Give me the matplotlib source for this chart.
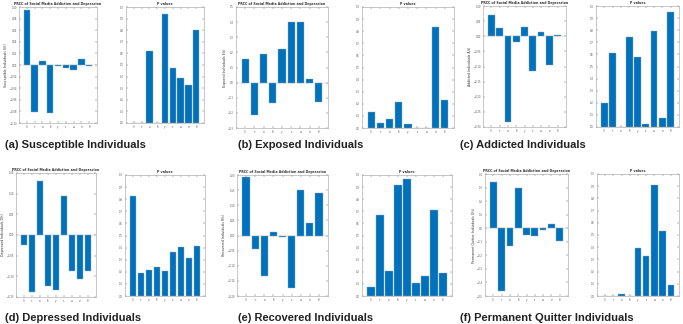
import numpy as np
import matplotlib.pyplot as plt

params = ['Λ', 'τ', 'α', 'δ', 'γ', 'ε', 'ω', 'σ', 'θ']

prcc_s = [0.094, -0.081, 0.007, -0.083, -0.001, -0.006, -0.009, 0.011, -0.002]
pval_s = [0.0, 0.0, 0.623, 0.0, 0.937, 0.471, 0.386, 0.329, 0.806]
prcc_e = [0.156, -0.211, 0.187, -0.132, 0.222, 0.404, 0.404, 0.022, -0.125]
pval_e = [0.135, 0.044, 0.077, 0.212, 0.033, 0.0, 0.0, 0.837, 0.234]
prcc_a = [0.069, 0.028, -0.283, -0.019, 0.031, -0.116, 0.015, -0.094, 0.005]
pval_a = [0.198, 0.609, 0.0, 0.741, 0.576, 0.028, 0.796, 0.072, 0.948]
prcc_d = [-0.025, -0.137, 0.131, -0.123, -0.132, 0.095, -0.088, -0.107, -0.086]
pval_d = [0.829, 0.193, 0.218, 0.243, 0.210, 0.367, 0.409, 0.312, 0.417]
prcc_r = [0.193, -0.046, -0.135, 0.011, -0.004, -0.173, 0.149, 0.040, 0.141]
pval_r = [0.071, 0.668, 0.204, 0.921, 0.965, 0.109, 0.163, 0.708, 0.188]
prcc_q = [0.343, -0.462, -0.128, 0.294, -0.049, -0.054, -0.010, 0.032, -0.094]
pval_q = [0.0, 0.0, 0.019, 0.0, 0.393, 0.330, 0.912, 0.530, 0.093]

captions = ['(a) Susceptible Individuals', '(b) Exposed Individuals', '(c) Addicted Individuals',
            '(d) Depressed Individuals', '(e) Recovered Individuals', '(f) Permanent Quitter Individuals']
ylabels = ['Susceptible Individuals S(t)', 'Exposed Individuals E(t)', 'Addicted Individuals A(t)',
           'Depressed Individuals D(t)', 'Recovered Individuals R(t)', 'Permanent Quitter Individuals Q(t)']
prcc_title = 'PRCC of Social Media Addiction and Depression'
pval_title = 'P values'

W, H = 683, 324
fig = plt.figure(figsize=(W / 100, H / 100), dpi=100)
fig.patch.set_facecolor('white')

def px_axes(left, right, top, bottom):
    return fig.add_axes([left / W, 1 - bottom / H, (right - left) / W, (bottom - top) / H])

def style(ax, title, ylim, step, ylabel=None):
    ax.set_xlim(0, 10)
    ax.set_ylim(*ylim)
    ax.set_xticks(np.arange(1, 10))
    ax.set_xticklabels(params)
    ax.set_yticks(np.arange(ylim[0], ylim[1] + step / 2, step))
    ax.tick_params(direction='in', length=1.5, width=0.3, labelsize=1.8, pad=1.5,
                   colors='#555555', top=True, right=True)
    for s in ax.spines.values():
        s.set_color('#b0b0b0')
        s.set_linewidth(0.5)
    ax.set_title(title, fontsize=2.3, pad=1.5, fontweight='bold', color='#333333')
    if ylabel:
        ax.set_ylabel(ylabel, fontsize=2.3, labelpad=1, color='#333333')

def bars(ax, vals):
    ax.bar(np.arange(1, 10), vals, width=0.8, color='#0072BD', edgecolor='#9aa7b5', linewidth=0.3)
    if min(vals) < 0:
        ax.axhline(0, color='#c0c0c0', lw=0.3, zorder=0)

# panel geometry in pixels: (left, right, top, bottom)
prcc_pos = [(19, 97, 7, 123), (236, 328, 7, 128), (483, 566, 6, 127),
            (16, 96, 173, 297), (237, 328, 175, 296), (485, 568, 174, 296)]
pval_pos = [(126, 204, 7, 123), (362, 454, 7, 128), (596, 679, 6, 127),
            (125, 205, 175, 296), (362, 452, 175, 296), (597, 679, 174, 296)]
prcc_all = [prcc_s, prcc_e, prcc_a, prcc_d, prcc_r, prcc_q]
pval_all = [pval_s, pval_e, pval_a, pval_d, pval_r, pval_q]
prcc_lims = [((-0.1, 0.1), 0.02), ((-0.3, 0.5), 0.1), ((-0.3, 0.1), 0.05),
             ((-0.15, 0.15), 0.05), ((-0.2, 0.2), 0.05), ((-0.5, 0.4), 0.1)]
cap_pos = [(5, 145), (238, 145), (460, 145), (5, 318), (238, 318), (460, 318)]

for i in range(6):
    ax = px_axes(*prcc_pos[i])
    bars(ax, prcc_all[i])
    style(ax, prcc_title, prcc_lims[i][0], prcc_lims[i][1], ylabels[i])
    ax2 = px_axes(*pval_pos[i])
    bars(ax2, pval_all[i])
    style(ax2, pval_title, (0, 1), 0.1)
    fig.text(cap_pos[i][0] / W, 1 - cap_pos[i][1] / H, captions[i], fontsize=8,
             fontweight='bold', family='Liberation Sans', va='center', ha='left', color='#222222')

fig.savefig('out.png', dpi=100, facecolor='white')
